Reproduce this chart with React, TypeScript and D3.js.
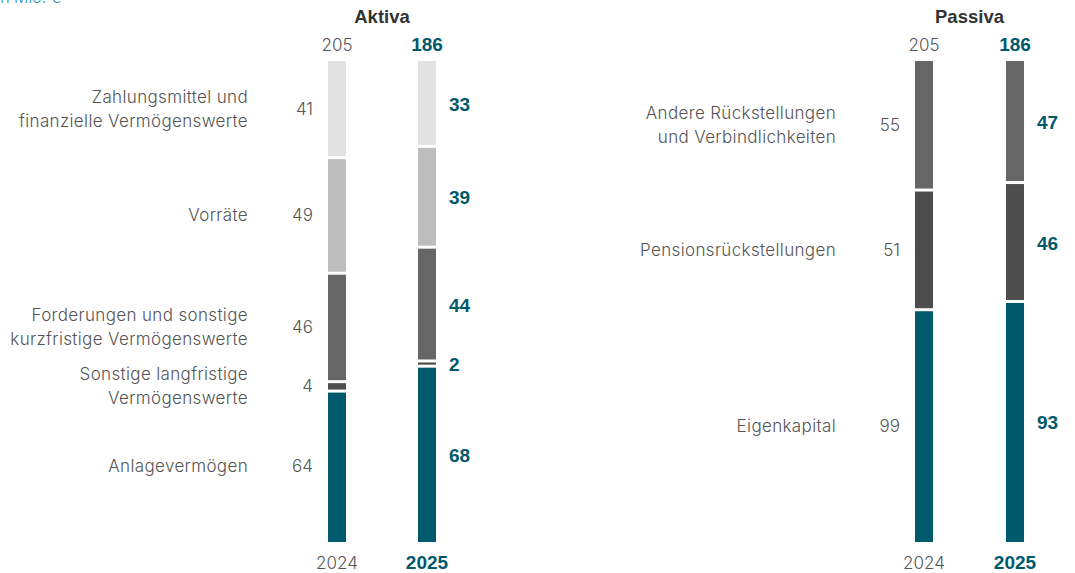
import React from "react";
import * as d3 from "d3";

const years = ["2024", "2025"];
const aktivaCategories = [
  "Anlagevermögen",
  "Sonstige langfristige|Vermögenswerte",
  "Forderungen und sonstige|kurzfristige Vermögenswerte",
  "Vorräte",
  "Zahlungsmittel und|finanzielle Vermögenswerte",
];
const aktiva2024 = [64, 4, 46, 49, 41];
const aktiva2025 = [68, 2, 44, 39, 33];
const aktivaColors = ["#005a6b", "#4d4d4d", "#666666", "#bdbdbd", "#e2e2e2"];

const passivaCategories = [
  "Eigenkapital",
  "Pensionsrückstellungen",
  "Andere Rückstellungen|und Verbindlichkeiten",
];
const passiva2024 = [99, 51, 55];
const passiva2025 = [93, 46, 47];
const passivaColors = ["#005a6b", "#4d4d4d", "#666666"];

const totals = [205, 186];

const TEAL = "#005a6b";
const GRAY = "#555555";
const LIGHT_FONT = "Inter, 'Open Sans', Roboto, sans-serif";
const BOLD_FONT = "'Liberation Sans', Arial, sans-serif";

type PanelProps = {
  title: string;
  categories: string[];
  v2024: number[];
  v2025: number[];
  colors: string[];
  xRange: [number, number];
  labelRight: number;
};

function Panel({ title, categories, v2024, v2025, colors, xRange, labelRight }: PanelProps) {
  const x = d3.scalePoint<string>().domain(years).range(xRange);
  const barW = 18;
  const gap = 3;
  const series = [v2024, v2025];
  const cx0 = x("2024")!;
  const cx1 = x("2025")!;
  const stacks = series.map((vals, si) => {
    const total = d3.sum(vals);
    const y = d3.scaleLinear().domain([0, total]).range([542, 61]);
    let acc = 0;
    return vals.map((v, i) => {
      const y0 = y(acc);
      const y1 = y(acc + v);
      acc += v;
      const top = y1 + (i === vals.length - 1 ? 0 : gap / 2);
      const bottom = y0 - (i === 0 ? 0 : gap / 2);
      return { v, i, top, bottom, mid: (y0 + y1) / 2, si };
    });
  });
  const midX = (cx0 + cx1) / 2;
  const txtProps = (si: number) =>
    si === 1
      ? { fontFamily: BOLD_FONT, fontWeight: 700, fill: TEAL, fontSize: 19 }
      : { fontFamily: LIGHT_FONT, fontWeight: 300, fill: GRAY, fontSize: 17 };
  return (
    <g>
      <text
        x={midX}
        y={23}
        textAnchor="middle"
        fontFamily={BOLD_FONT}
        fontWeight={700}
        fontSize={18.5}
        fill="#333"
      >
        {title}
      </text>
      {years.map((yr, si) => (
        <g key={yr}>
          <text x={x(yr)} y={51} textAnchor="middle" {...txtProps(si)}>
            {totals[si]}
          </text>
          <text x={x(yr)} y={569} textAnchor="middle" {...txtProps(si)}>
            {yr}
          </text>
          {stacks[si].map((s) => (
            <rect
              key={s.i}
              x={x(yr)! - barW / 2}
              y={s.top}
              width={barW}
              height={Math.max(0, s.bottom - s.top)}
              fill={colors[s.i]}
            />
          ))}
        </g>
      ))}
      {stacks[0].map((s) => (
        <text
          key={"v0" + s.i}
          x={cx0 - 24}
          y={s.mid}
          dy="0.35em"
          textAnchor="end"
          {...txtProps(0)}
        >
          {s.v}
        </text>
      ))}
      {stacks[1].map((s) => (
        <text
          key={"v1" + s.i}
          x={cx1 + 22}
          y={s.mid + 1}
          dy="0.35em"
          textAnchor="start"
          {...txtProps(1)}
        >
          {s.v}
        </text>
      ))}
      {stacks[0].map((s) => {
        const lines = categories[s.i].split("|");
        const lh = 24;
        const start = s.mid - ((lines.length - 1) * lh) / 2;
        return (
          <text
            key={"c" + s.i}
            textAnchor="end"
            fontFamily={LIGHT_FONT}
            fontSize={17}
            fontWeight={300}
            letterSpacing={0.35}
            fill={GRAY}
          >
            {lines.map((l, li) => (
              <tspan key={li} x={labelRight} y={start + li * lh} dy="0.35em">
                {l}
              </tspan>
            ))}
          </text>
        );
      })}
    </g>
  );
}

export default function App() {
  return (
    <svg
      width={1075}
      height={573}
      style={{ position: "absolute", left: 0, top: 0 }}
    >
      <rect width={1075} height={573} fill="#fff" />
      <text x={-4} y={3} fontFamily={LIGHT_FONT} fontSize={16} fontWeight={300} fill="#2a8fb0">
        In Mio. €
      </text>
      <Panel
        title="Aktiva"
        categories={aktivaCategories}
        v2024={aktiva2024}
        v2025={aktiva2025}
        colors={aktivaColors}
        xRange={[337, 427]}
        labelRight={248}
      />
      <Panel
        title="Passiva"
        categories={passivaCategories}
        v2024={passiva2024}
        v2025={passiva2025}
        colors={passivaColors}
        xRange={[924, 1015]}
        labelRight={836}
      />
    </svg>
  );
}
